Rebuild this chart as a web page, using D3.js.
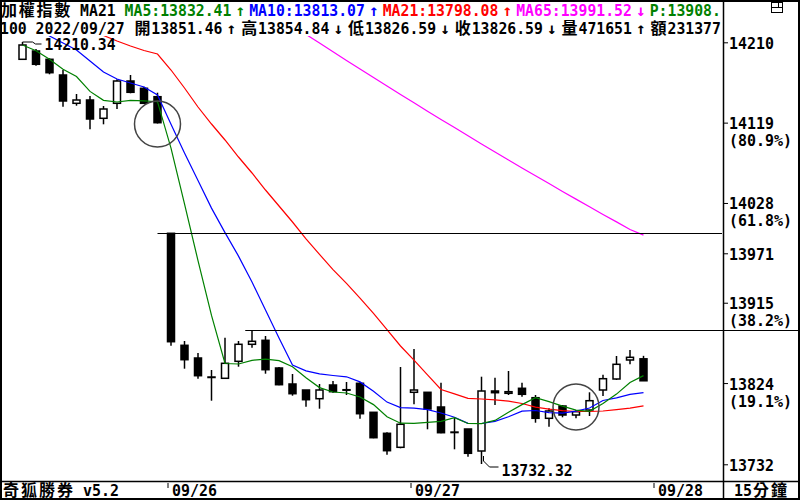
<!DOCTYPE html>
<html>
<head>
<meta charset="utf-8">
<script src="https://cdn.jsdelivr.net/npm/d3@7"></script>
<style>
html, body { margin: 0; padding: 0; background: #fff; }
svg { display: block; }
text { font-family: "DejaVu Sans Mono", "Noto Sans CJK TC", monospace; }
</style>
</head>
<body>
<div id="chart"></div>
<script>
// 15 minute bars of the TAIEX, 09/23 (last 11 bars) to 09/27
var sessionTimes = ["09:15", "09:30", "09:45", "10:00", "10:15", "10:30", "10:45", "11:00", "11:15",
  "11:30", "11:45", "12:00", "12:15", "12:30", "12:45", "13:00", "13:15", "13:30"];
var sessionDays = ["09/23", "09/26", "09/27"];

var opens = [14190.74, 14200.15, 14190.74, 14172.96, 14140.90, 14144.64, 14123.91, 14140.90, 14166.16, 14157.89, 14148.38,
  13993.65, 13866.78, 13852.39, 13830.87, 13829.40, 13848.65, 13867.91, 13872.44, 13841.06, 13822.94, 13816.14, 13806.29,
  13821.81, 13816.48, 13823.73, 13790.88, 13767.09, 13751.24,
  13813.54, 13813.54, 13796.89, 13768.23, 13771.97, 13747.05, 13815.01, 13812.40, 13818.07, 13807.42, 13784.09, 13798.02,
  13787.82, 13793.49, 13816.14, 13828.60, 13850.13, 13851.46];
var highs = [14210.34, 14202.41, 14191.88, 14178.62, 14151.44, 14149.17, 14137.84, 14168.09, 14172.96, 14159.71, 14152.91,
  13993.65, 13871.65, 13858.05, 13838.80, 13875.39, 13871.65, 13884.11, 13877.31, 13842.20, 13834.27, 13816.14, 13822.94,
  13826.34, 13825.20, 13824.86, 13790.88, 13768.23, 13842.20,
  13862.59, 13813.54, 13824.41, 13784.77, 13771.97, 13831.21, 13830.08, 13837.67, 13824.41, 13810.48, 13795.41, 13799.15,
  13793.49, 13813.54, 13833.47, 13854.66, 13861.45, 13854.84];
var lows = [14190.40, 14183.49, 14173.75, 14137.05, 14138.18, 14111.45, 14117.11, 14134.45, 14152.23, 14140.11, 14118.00,
  13866.32, 13840.27, 13828.94, 13804.02, 13829.00, 13842.54, 13864.06, 13834.61, 13821.50, 13809.69, 13797.23, 13794.96,
  13813.09, 13810.48, 13783.63, 13761.50, 13742.85, 13750.10,
  13799.94, 13771.63, 13767.09, 13748.97, 13740.59, 13732.32, 13799.15, 13810.48, 13808.55, 13779.10, 13774.57, 13785.22,
  13784.09, 13786.69, 13809.35, 13827.47, 13845.25, 13826.59];
var closes = [14206.94, 14185.08, 14175.56, 14143.51, 14144.64, 14123.12, 14134.45, 14166.16, 14153.36, 14140.90, 14118.93,
  13870.85, 13850.47, 13832.34, 13830.50, 13846.39, 13867.91, 13871.31, 13839.14, 13822.15, 13811.95, 13805.16, 13816.14,
  13814.22, 13816.10, 13789.30, 13762.11, 13747.39, 13777.29,
  13816.14, 13794.62, 13767.77, 13768.50, 13744.44, 13815.01, 13813.09, 13814.22, 13811.27, 13784.09, 13792.36, 13787.82,
  13791.56, 13804.02, 13828.94, 13845.25, 13853.18, 13826.59];

var ma5 = [14206.94, 14200.49, 14190.74, 14179.42, 14171.15, 14154.38, 14144.30, 14142.37, 14144.30, 14143.62, 14142.71,
  14090.04, 14026.95, 13962.72, 13900.65, 13846.16, 13845.59, 13849.79, 13851.14, 13849.33, 13842.54, 13829.96, 13818.86,
  13813.88, 13812.74, 13808.21, 13799.60, 13785.90, 13778.54,
  13778.43, 13779.55, 13780.69, 13784.77, 13778.20, 13777.97, 13781.71, 13791.00, 13799.60, 13807.53, 13803.00, 13797.91,
  13793.37, 13792.01, 13800.96, 13811.50, 13824.64, 13832.41];
var ma10 = [null, 14226.20, 14217.14, 14209.21, 14201.28, 14188.82, 14176.36, 14168.43, 14163.90, 14159.37, 14150.30,
  14117.11, 14084.60, 14053.57, 14022.19, 13994.44, 13967.82, 13938.37, 13906.88, 13875.05, 13844.33, 13837.78, 13834.38,
  13832.57, 13831.09, 13825.32, 13814.78, 13802.44, 13796.21,
  13795.64, 13793.83, 13790.09, 13785.33, 13778.42, 13778.20, 13780.57, 13785.79, 13792.24, 13792.92, 13790.54, 13789.86,
  13792.24, 13795.75, 13804.25, 13807.31, 13811.27, 13813.07];
var ma21 = [null, null, null, null, null, 14222.80, 14217.70, 14211.47, 14205.81, 14200.71, 14196.75,
  14178.62, 14158.23, 14136.71, 14117.45, 14099.33, 14080.07, 14061.95, 14042.69, 14024.57, 14006.44, 13987.30, 13969.74,
  13952.53, 13937.01, 13920.13, 13902.91, 13884.45, 13865.98,
  13849.90, 13833.36, 13816.71, 13811.72, 13806.74, 13805.95, 13805.04, 13803.57, 13800.85, 13796.66, 13794.39, 13792.80,
  13791.79, 13791.79, 13792.36, 13793.83, 13795.64, 13798.08];
var ma65 = [null, null, null, null, null, null, null, null, null, null, null,
  null, null, null, null, null, null, null, null, null, 14228.92, 14218.95, 14209.09,
  14199.24, 14189.50, 14179.76, 14170.01, 14160.50, 14150.87,
  14141.47, 14131.95, 14122.67, 14113.38, 14104.09, 14094.91, 14085.85, 14076.68, 14067.73, 14058.89, 14049.94, 14041.11,
  14032.38, 14023.78, 14015.05, 14006.56, 13997.95, 13991.52];

// right axis: fibonacci levels between the low and the high
var tickValues = [14210, 14119, 14028, 13971, 13915, 13824, 13732];
var tickPercents = ["", "(80.9%)", "(61.8%)", "", "(38.2%)", "(19.1%)", ""];

var dateLabels = ["09/26", "09/27", "09/28"];
var dateBars = [11, 29, 47];

// horizontal levels (open of 09/26, high of 13:00 bar)
var levelPrices = [13993.65, 13884.11];
var levelStartBars = [10, 16.5];
var levelEndX = [722, 800];

// marker circles
var circleBars = [10, 41];
var circlePrices = [14117.5, 13796.9];

var header1 = [["加權指數", "#000"], [" MA21 ", "#000"], ["MA5:13832.41↑", "#008000"], ["MA10:13813.07↑", "#0000ff"],
  ["MA21:13798.08↑", "#ff0000"], ["MA65:13991.52↓", "#ff00ff"], ["P:13908.", "#008000"]];
var header2 = [["100 2022/09/27 開13851.46↑高13854.84↓低13826.59↓收13826.59↓量471651↑額231377", "#000"]];

var categories = [];
sessionDays.forEach(function(day, k) {
  var times = k == 0 ? sessionTimes.slice(7) : sessionTimes;
  times.forEach(function(t) { categories.push(day + " " + t); });
});

var svgWidth = 800, svgHeight = 500;
var axisX = 723, footY = 481;
var U = 8.9, fontSize = 15;

var svg = d3.select("#chart").append("svg")
  .attr("width", svgWidth)
  .attr("height", svgHeight);

var x = d3.scaleLinear().domain([0, categories.length - 1]).range([22.5, 643.5]);
var y = d3.scaleLinear().domain([13732.32, 14210.34]).range([464, 42]);

svg.append("defs").append("clipPath").attr("id", "plotClip")
  .append("rect").attr("x", 2).attr("y", 36).attr("width", axisX - 2).attr("height", footY - 36);

var plot = svg.append("g").attr("clip-path", "url(#plotClip)");

// monospaced text: narrow chars take one cell, CJK and arrows take two
function isWide(ch) { return /[\u2190-\u21ff\u3000-\u9fff\uff00-\uffef]/.test(ch); }
function monoText(g, x0, yb, segs, u, sy) {
  sy = sy || 1.06;
  var cx = x0;
  var sx = u / (0.602 * fontSize);
  segs.forEach(function(s) {
    var run = "";
    function flush() {
      if (!run) return;
      g.append("text")
        .attr("transform", "translate(" + cx + "," + yb + ") scale(" + sx.toFixed(3) + "," + sy + ")")
        .attr("fill", s[1]).attr("font-size", fontSize).attr("font-weight", "bold")
        .text(run);
      cx += run.length * u;
      run = "";
    }
    for (var ch of s[0]) {
      if (ch == " ") { flush(); cx += u; }
      else if (isWide(ch)) {
        flush();
        var arrow = /[\u2190-\u21ff]/.test(ch);
        g.append("text")
          .attr("x", cx + u).attr("y", yb)
          .attr("text-anchor", "middle")
          .attr("font-family", arrow ? "Noto Sans CJK TC" : null)
          .attr("fill", s[1]).attr("font-size", 16).attr("font-weight", "bold")
          .text(ch);
        cx += 2 * u;
      } else run += ch;
    }
    flush();
  });
  return cx;
}

// level lines
levelPrices.forEach(function(p, k) {
  svg.append("line")
    .attr("x1", x(levelStartBars[k])).attr("x2", levelEndX[k])
    .attr("y1", Math.round(y(p)) + 0.5).attr("y2", Math.round(y(p)) + 0.5)
    .attr("stroke", "#000").attr("stroke-width", 1);
});

// candles
var bars = categories.map(function(c, i) {
  return { i: i, o: opens[i], h: highs[i], l: lows[i], c: closes[i] };
});
var bw = 7;

plot.selectAll(".wick").data(bars).enter().append("line")
  .attr("class", "wick")
  .attr("x1", function(d) { return x(d.i); })
  .attr("x2", function(d) { return x(d.i); })
  .attr("y1", function(d) { return y(d.h); })
  .attr("y2", function(d) { return y(d.l); })
  .attr("stroke", "#000").attr("stroke-width", 1.5);

plot.selectAll(".body").data(bars).enter().append("rect")
  .attr("class", "body")
  .attr("x", function(d) { return x(d.i) - bw / 2; })
  .attr("y", function(d) { return y(Math.max(d.o, d.c)); })
  .attr("width", bw)
  .attr("height", function(d) { return Math.max(0.5, Math.abs(y(d.o) - y(d.c))); })
  .attr("fill", function(d) { return d.c >= d.o ? "#fff" : "#000"; })
  .attr("stroke", "#000").attr("stroke-width", 1.5);

// moving averages
var maLine = d3.line()
  .defined(function(v) { return v != null; })
  .x(function(v, i) { return x(i); })
  .y(function(v) { return y(v); });

[[ma65, "#ff00ff"], [ma21, "#ff0000"], [ma10, "#0000ff"], [ma5, "#008000"]].forEach(function(m) {
  plot.append("path").datum(m[0])
    .attr("d", maLine)
    .attr("fill", "none")
    .attr("stroke", m[1])
    .attr("stroke-width", 1.2);
});

// circles
circleBars.forEach(function(b, k) {
  svg.append("circle")
    .attr("cx", x(b)).attr("cy", y(circlePrices[k])).attr("r", 23)
    .attr("fill", "none").attr("stroke", "#444").attr("stroke-width", 1.5);
});

// high / low markers
var hiIdx = d3.maxIndex(highs), loIdx = d3.minIndex(lows);
var hx = x(hiIdx), hy = y(highs[hiIdx]);
svg.append("path")
  .attr("d", "M" + hx + "," + hy + "H" + (hx + 10) + "L" + (hx + 13) + "," + (hy + 2) + "H" + (hx + 19))
  .attr("fill", "none").attr("stroke", "#000").attr("stroke-width", 1);
monoText(svg, hx + 22, hy + 8, [[highs[hiIdx].toFixed(2), "#000"]], U, 1.0);

var lx = x(loIdx), ly = y(lows[loIdx]);
svg.append("path")
  .attr("d", "M" + (lx + 2) + "," + (ly - 8) + "V" + (ly - 3) + "L" + (lx + 8) + "," + (ly + 3) + "H" + (lx + 17))
  .attr("fill", "none").attr("stroke", "#000").attr("stroke-width", 1);
monoText(svg, lx + 20, ly + 12, [[lows[loIdx].toFixed(2), "#000"]], U);

// right axis
var yAxis = d3.axisRight(y)
  .tickValues(tickValues)
  .tickSize(5)
  .tickFormat(function(d) { return d; });

var axisG = svg.append("g")
  .attr("transform", "translate(" + axisX + ",0)")
  .call(yAxis);
axisG.select(".domain").remove();
axisG.selectAll(".tick line").attr("stroke", "#000").attr("stroke-width", 1);
axisG.selectAll(".tick text").remove();
axisG.selectAll(".tick").each(function(d, i) {
  var g = d3.select(this);
  monoText(g, 6, 6, [[String(d), "#000"]], 9, 1.0);
  if (tickPercents[i]) monoText(g, 6, 23, [[tickPercents[i], "#000"]], 9, 1.0);
});

// frame
svg.append("line").attr("x1", axisX + 0.5).attr("x2", axisX + 0.5).attr("y1", 0).attr("y2", svgHeight)
  .attr("stroke", "#000").attr("stroke-width", 1.5);
svg.append("line").attr("x1", 0).attr("x2", svgWidth).attr("y1", footY + 0.5).attr("y2", footY + 0.5)
  .attr("stroke", "#000").attr("stroke-width", 1.5);
svg.append("rect").attr("x", 1).attr("y", 1).attr("width", svgWidth - 2).attr("height", svgHeight - 2)
  .attr("fill", "none").attr("stroke", "#000").attr("stroke-width", 2);

// window icon top right
var icon = svg.append("g").attr("fill", "none").attr("stroke", "#000").attr("stroke-width", 1);
icon.append("rect").attr("x", 771.5).attr("y", 2.5).attr("width", 11).attr("height", 10);
icon.append("line").attr("x1", 771.5).attr("x2", 782.5).attr("y1", 7.5).attr("y2", 7.5);
icon.append("line").attr("x1", 778.5).attr("x2", 778.5).attr("y1", 2.5).attr("y2", 7.5);

// header
monoText(svg, 0, 16, header1, U);
monoText(svg, 0, 34, header2, U);

// footer
monoText(svg, 2, 496, [["奇狐勝券 v5.2", "#000"]], 9);
dateLabels.forEach(function(lbl, k) {
  var dx = x(dateBars[k]);
  svg.append("line").attr("x1", dx - 3).attr("x2", dx - 3).attr("y1", footY + 2).attr("y2", footY + 7)
    .attr("stroke", "#000").attr("stroke-width", 1);
  monoText(svg, dx + 1, 496, [[lbl, "#000"]], 9);
});
monoText(svg, 734, 496, [["15分鐘", "#000"]], 9);
</script>
</body>
</html>
